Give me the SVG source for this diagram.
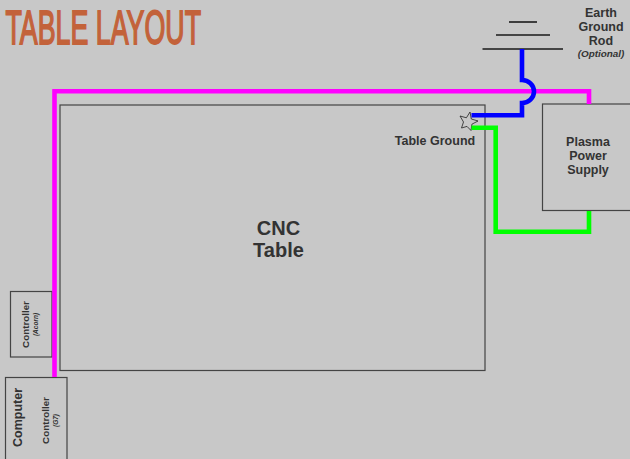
<svg xmlns="http://www.w3.org/2000/svg" width="630" height="459" viewBox="0 0 630 459">
<style>
text{font-family:"Liberation Sans",Arial,sans-serif;font-weight:bold;fill:#333;text-anchor:middle}
.box{fill:none;stroke:#444;stroke-width:1.2}
.wire{fill:none;stroke-width:4.6;stroke-linejoin:miter}
.bar{stroke:#1a1a1a;stroke-width:1.6}
</style>
<rect width="630" height="459" fill="#c8c8c8"/>
<text x="5.500" y="44" font-size="48" textLength="195.500" lengthAdjust="spacingAndGlyphs" style="fill:#c3623a;stroke:#c3623a;stroke-width:1.800;text-anchor:start;font-weight:normal">TABLE LAYOUT</text>
<g id="table"><rect class="box" x="60" y="105" width="425" height="265.5"/>
<text x="278.500" y="235" font-size="20">CNC</text><text x="278.500" y="257" font-size="20">Table</text></g>
<g id="plasma"><rect class="box" x="542.5" y="104" width="100" height="106.5"/>
<text x="588" y="146" font-size="12.500">Plasma</text><text x="588" y="160" font-size="12.500">Power</text><text x="588" y="174" font-size="12.500">Supply</text></g>
<g id="controller-acon"><rect class="box" x="10.5" y="291.5" width="41.5" height="65.5"/>
<text transform="translate(29 324.500) rotate(-90)" font-size="9.800">Controller</text>
<text transform="translate(37.500 324.500) rotate(-90)" font-size="6.500" style="font-style:italic">(Acorn)</text></g>
<g id="computer"><rect class="box" x="5.5" y="377.5" width="61.5" height="100"/>
<text transform="translate(21.500 417.500) rotate(-90)" font-size="12.500">Computer</text>
<text transform="translate(49 420.500) rotate(-90)" font-size="9.800">Controller</text>
<text transform="translate(58 420.500) rotate(-90)" font-size="6.500" style="font-style:italic">(G7)</text></g>
<g id="earth"><line class="bar" x1="509" y1="22" x2="537" y2="22"/><line class="bar" x1="496" y1="35" x2="550" y2="35"/><line class="bar" x1="482.5" y1="49" x2="563" y2="49"/>
<text x="601" y="17" font-size="12.500">Earth</text><text x="601" y="31" font-size="12.500">Ground</text><text x="601" y="45" font-size="12.500">Rod</text>
<text x="601" y="57" font-size="9.900" style="font-style:italic">(Optional)</text></g>
<g id="table-ground"><polygon points="470,112 471.300,119 478,121 471.900,124.200 471,130.500 467,126.400 461.500,128 463.500,122 460,116 466.400,117.800" fill="#c8c8c8" stroke="#222" stroke-width="0.8"/>
<text x="435" y="145" font-size="12.500">Table Ground</text></g>
<g id="connectors">
<path class="wire" stroke="#ff00ff" d="M54.500 377V91.300H589V104"/>
<path class="wire" stroke="#00ff00" d="M471.500 127.700H495.700V231.700H589V211"/>
<path class="wire" stroke="#0000ff" d="M522 49V80A12 11.500 0 0 1 522 103V115.200H471.500"/>
</g>
</svg>
